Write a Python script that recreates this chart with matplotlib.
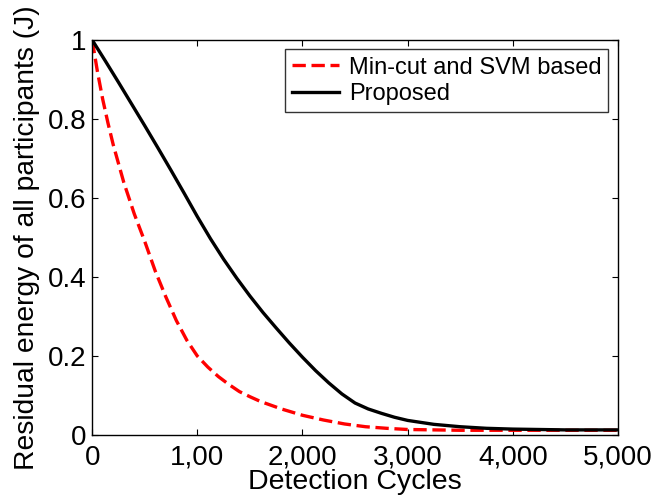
import matplotlib
matplotlib.use("Agg")
import matplotlib.pyplot as plt

plt.rcParams['font.family'] = ['Liberation Sans', 'DejaVu Sans']

# Data
x_proposed = [0, 125, 250, 375, 500, 625, 750, 875, 1000, 1125, 1250, 1375, 1500, 1625,
              1750, 1875, 2000, 2125, 2250, 2375, 2500, 2625, 2750, 2875, 3000, 3250,
              3500, 3750, 4000, 4500, 5000]
y_proposed = [1.000, 0.947, 0.893, 0.838, 0.783, 0.727, 0.670, 0.612, 0.553, 0.497,
              0.445, 0.397, 0.352, 0.310, 0.271, 0.233, 0.197, 0.163, 0.132, 0.104,
              0.081, 0.066, 0.055, 0.045, 0.037, 0.027, 0.021, 0.017, 0.015, 0.013, 0.013]

x_mincut = [0, 50, 100, 150, 200, 300, 400, 500, 600, 700, 800, 900, 1000, 1100, 1200,
            1300, 1400, 1500, 1600, 1800, 2000, 2200, 2400, 2600, 2800, 3000, 3500,
            4000, 5000]
y_mincut = [1.0, 0.92, 0.85, 0.79, 0.735, 0.64, 0.56, 0.49, 0.415, 0.35, 0.29, 0.24,
            0.20, 0.172, 0.148, 0.128, 0.11, 0.097, 0.085, 0.066, 0.05, 0.038, 0.028,
            0.021, 0.017, 0.014, 0.012, 0.012, 0.012]

x_ticks = [0, 1000, 2000, 3000, 4000, 5000]
x_ticklabels = ["0", "1,00", "2,000", "3,000", "4,000", "5,000"]
y_ticks = [0, 0.2, 0.4, 0.6, 0.8, 1.0]
y_ticklabels = ["0", "0.2", "0.4", "0.6", "0.8", "1"]

series_labels = ["Min-cut and SVM based", "Proposed"]

fig = plt.figure(figsize=(6.68, 4.97), dpi=100)
ax = fig.add_axes([0.138, 0.1247, 0.787, 0.7948])

ax.plot(x_mincut, y_mincut, color='#ff0000', linestyle=(0, (4.0, 1.7)), linewidth=2.4,
        label=series_labels[0])
ax.plot(x_proposed, y_proposed, color='black', linestyle='-', linewidth=2.4,
        label=series_labels[1])

ax.set_xlim(0, 5000)
ax.set_ylim(0, 1)
ax.set_xticks(x_ticks)
ax.set_xticklabels(x_ticklabels)
ax.set_yticks(y_ticks)
ax.set_yticklabels(y_ticklabels)
ax.tick_params(axis='both', direction='in', top=True, right=True, length=4, width=0.8,
               labelsize=20)
ax.tick_params(axis='x', pad=7)
ax.tick_params(axis='y', pad=4)
for s in ax.spines.values():
    s.set_linewidth(1.0)

ax.set_xlabel("Detection Cycles", fontsize=20.5, labelpad=-1)
ax.set_ylabel("Residual energy of all participants (J)", fontsize=20.3, labelpad=6)

leg = ax.legend(loc='upper right', fontsize=17, frameon=True, fancybox=False,
                edgecolor='black', handlelength=2.0, borderpad=0.3,
                labelspacing=0.2, handletextpad=0.4, borderaxespad=0.4)
leg.get_frame().set_linewidth(1.0)

fig.savefig("out.png", dpi=100)
